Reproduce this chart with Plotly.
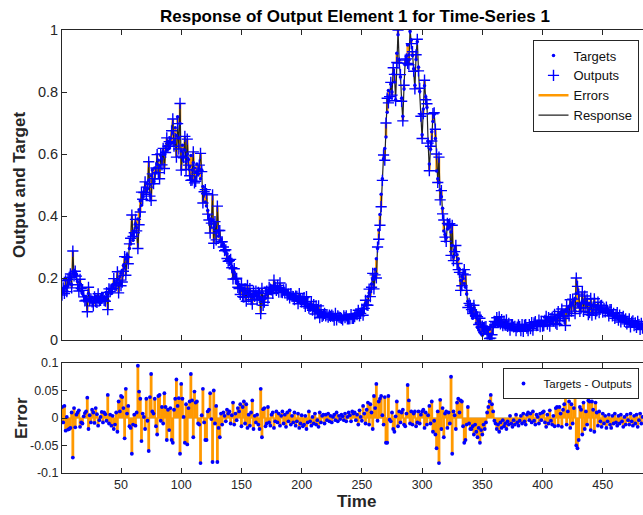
import plotly.graph_objects as go

# ---------------- data ----------------
targets = [
    0.165, 0.160, 0.172, 0.168, 0.158, 0.175, 0.182, 0.195, 0.178, 0.215,
    0.225, 0.205, 0.212, 0.188, 0.172, 0.180, 0.158, 0.150, 0.142, 0.135,
    0.140, 0.128, 0.150, 0.132, 0.125, 0.138, 0.120, 0.130, 0.142, 0.128,
    0.135, 0.122, 0.130, 0.145, 0.128, 0.138, 0.132, 0.148, 0.140, 0.155,
    0.162, 0.150, 0.170, 0.178, 0.165, 0.185, 0.195, 0.182, 0.205, 0.215,
    0.225, 0.240, 0.232, 0.262, 0.275, 0.268, 0.295, 0.310, 0.338, 0.322,
    0.352, 0.375, 0.362, 0.390, 0.420, 0.448, 0.435, 0.462, 0.478, 0.490,
    0.505, 0.488, 0.515, 0.502, 0.530, 0.548, 0.512, 0.555, 0.540, 0.568,
    0.580, 0.562, 0.595, 0.585, 0.608, 0.598, 0.625, 0.612, 0.640, 0.618,
    0.652, 0.635, 0.668, 0.640, 0.685, 0.660, 0.720, 0.652, 0.698, 0.610,
    0.628, 0.590, 0.612, 0.575, 0.600, 0.582, 0.560, 0.595, 0.548, 0.572,
    0.555, 0.540, 0.568, 0.535, 0.552, 0.520, 0.548, 0.495, 0.470, 0.445,
    0.432, 0.418, 0.402, 0.390, 0.375, 0.388, 0.362, 0.372, 0.345, 0.352,
    0.335, 0.318, 0.325, 0.305, 0.310, 0.292, 0.285, 0.278, 0.262, 0.268,
    0.250, 0.238, 0.225, 0.218, 0.205, 0.195, 0.188, 0.178, 0.172, 0.165,
    0.160, 0.168, 0.155, 0.150, 0.158, 0.145, 0.152, 0.140, 0.148, 0.138,
    0.145, 0.150, 0.135, 0.142, 0.130, 0.138, 0.132, 0.128, 0.140, 0.135,
    0.148, 0.155, 0.162, 0.150, 0.168, 0.160, 0.175, 0.165, 0.172, 0.168,
    0.162, 0.170, 0.158, 0.165, 0.152, 0.160, 0.148, 0.155, 0.142, 0.150,
    0.138, 0.145, 0.132, 0.140, 0.128, 0.135, 0.125, 0.132, 0.120, 0.128,
    0.118, 0.125, 0.112, 0.120, 0.108, 0.115, 0.102, 0.110, 0.098, 0.104,
    0.092, 0.098, 0.088, 0.094, 0.082, 0.090, 0.080, 0.086, 0.076, 0.084,
    0.078, 0.082, 0.074, 0.080, 0.072, 0.078, 0.070, 0.082, 0.075, 0.072,
    0.078, 0.070, 0.076, 0.068, 0.074, 0.080, 0.072, 0.070, 0.078, 0.074,
    0.076, 0.082, 0.078, 0.085, 0.080, 0.088, 0.084, 0.092, 0.088, 0.095,
    0.102, 0.110, 0.118, 0.128, 0.140, 0.152, 0.165, 0.180, 0.195, 0.205,
    0.228, 0.262, 0.295, 0.355, 0.405, 0.470, 0.520, 0.585, 0.618, 0.655,
    0.735, 0.805, 0.782, 0.825, 0.800, 0.858, 0.832, 0.775, 0.925, 0.985,
    0.905, 0.848, 0.780, 0.722, 0.810, 0.888, 0.915, 0.952, 0.920, 0.995,
    0.968, 0.918, 0.875, 0.822, 0.905, 0.962, 0.880, 0.802, 0.728, 0.662,
    0.745, 0.820, 0.785, 0.750, 0.640, 0.568, 0.615, 0.672, 0.705, 0.728,
    0.650, 0.545, 0.520, 0.508, 0.485, 0.462, 0.425, 0.352, 0.340, 0.330,
    0.358, 0.382, 0.365, 0.348, 0.305, 0.268, 0.290, 0.285, 0.275, 0.262,
    0.228, 0.192, 0.205, 0.198, 0.182, 0.170, 0.148, 0.125, 0.108, 0.092,
    0.078, 0.070, 0.082, 0.078, 0.055, 0.040, 0.032, 0.025, 0.020, 0.015,
    0.028, 0.022, 0.035, 0.030, 0.040, 0.035, 0.048, 0.042, 0.052, 0.055,
    0.048, 0.052, 0.045, 0.050, 0.044, 0.048, 0.042, 0.046, 0.040, 0.045,
    0.038, 0.042, 0.036, 0.040, 0.034, 0.038, 0.032, 0.036, 0.034, 0.035,
    0.038, 0.034, 0.040, 0.036, 0.042, 0.038, 0.044, 0.040, 0.046, 0.045,
    0.048, 0.044, 0.050, 0.047, 0.052, 0.049, 0.054, 0.051, 0.056, 0.055,
    0.058, 0.055, 0.060, 0.057, 0.062, 0.059, 0.064, 0.061, 0.066, 0.068,
    0.072, 0.070, 0.078, 0.082, 0.086, 0.084, 0.090, 0.094, 0.092, 0.098,
    0.102, 0.108, 0.112, 0.118, 0.122, 0.128, 0.135, 0.150, 0.118, 0.108,
    0.112, 0.118, 0.125, 0.120, 0.122, 0.116, 0.120, 0.114, 0.118, 0.112,
    0.110, 0.114, 0.108, 0.112, 0.104, 0.108, 0.100, 0.104, 0.096, 0.098,
    0.092, 0.095, 0.088, 0.090, 0.084, 0.086, 0.080, 0.082, 0.076, 0.078,
    0.072, 0.074, 0.068, 0.070, 0.064, 0.066, 0.060, 0.062, 0.056, 0.058,
    0.054, 0.056, 0.050, 0.052, 0.048, 0.050, 0.045, 0.047, 0.044, 0.046,
    0.042, 0.044, 0.040,
]

# errors = targets - outputs
errors = [
    0.020, -0.008, 0.022, -0.023, 0.002, -0.021, -0.020, -0.018, 0.010, -0.072,
    0.018, -0.017, 0.006, 0.010, 0.014, -0.016, -0.008, -0.010, 0.003, 0.009,
    0.012, 0.037, -0.020, 0.005, -0.008, 0.015, 0.010, -0.009, 0.018, 0.007,
    -0.014, -0.004, 0.002, 0.011, -0.008, 0.010, 0.007, -0.005, 0.042, -0.010,
    0.006, -0.014, 0.004, -0.020, -0.012, 0.010, -0.025, 0.030, 0.012, 0.040,
    0.038, 0.018, -0.037, 0.053, 0.008, 0.022, -0.015, -0.018, -0.065, -0.012,
    0.006, -0.014, 0.010, 0.095, 0.048, 0.035, -0.042, 0.008, 0.002, -0.020,
    0.035, -0.005, -0.060, 0.038, 0.080, 0.012, 0.008, 0.035, -0.015, -0.030,
    0.040, 0.042, -0.005, 0.020, -0.010, 0.045, 0.020, -0.040, 0.015, -0.022,
    0.018, -0.040, -0.045, 0.015, 0.035, 0.070, 0.022, 0.036, -0.065, 0.062,
    0.035, 0.002, -0.045, 0.025, -0.048, 0.018, 0.030, 0.080, 0.032, -0.035,
    0.048, 0.028, 0.030, -0.010, -0.012, -0.082, 0.005, 0.053, -0.008, -0.040,
    -0.040, 0.012, 0.015, 0.045, -0.002, -0.080, 0.050, -0.010, 0.022, -0.080,
    -0.018, -0.035, 0.008, -0.012, 0.010, 0.004, -0.006, 0.015, 0.008, 0.012,
    -0.010, 0.005, 0.028, -0.012, 0.008, -0.004, 0.018, 0.012, 0.025, -0.015,
    0.020, 0.030, -0.010, 0.025, -0.018, 0.006, -0.014, 0.010, 0.032, -0.020,
    0.004, -0.008, 0.006, -0.012, -0.020, 0.053, -0.035, 0.016, 0.018, -0.015,
    -0.010, 0.020, -0.008, -0.014, 0.006, 0.010, -0.018, -0.006, 0.012, -0.008,
    0.008, -0.014, 0.004, 0.012, -0.010, 0.006, -0.016, 0.010, -0.006, 0.014,
    -0.012, 0.004, -0.008, 0.010, -0.014, -0.006, 0.008, -0.018, -0.010, 0.005,
    -0.015, -0.012, 0.004, -0.020, -0.008, 0.012, -0.006, -0.014, 0.002, -0.010,
    0.008, -0.012, -0.004, -0.016, 0.010, -0.008, 0.004, 0.006, -0.010, 0.006,
    -0.004, 0.008, -0.006, 0.004, -0.008, 0.002, 0.006, -0.004, 0.010, -0.006,
    0.004, -0.002, 0.006, 0.003, -0.004, 0.008, -0.006, 0.002, 0.010, 0.005,
    -0.006, 0.012, 0.008, 0.010, -0.004, 0.006, -0.012, 0.014, 0.002, -0.005,
    0.022, 0.008, -0.010, 0.015, 0.028, -0.012, 0.025, 0.010, -0.020, 0.040,
    0.018, 0.062, -0.005, 0.030, 0.035, 0.040, 0.005, -0.012, 0.038, -0.045,
    -0.045, 0.040, -0.003, -0.006, 0.010, -0.020, -0.025, 0.003, 0.030, -0.015,
    0.012, -0.008, 0.010, 0.015, -0.012, -0.015, 0.008, 0.060, 0.032, -0.010,
    0.012, -0.012, 0.008, 0.012, -0.015, -0.008, 0.012, -0.010, 0.006, 0.012,
    0.015, -0.018, 0.010, -0.012, 0.005, 0.022, -0.010, 0.030, -0.025, -0.005,
    -0.030, -0.055, 0.012, -0.082, 0.033, -0.020, 0.018, -0.035, 0.008, 0.012,
    -0.018, 0.010, -0.010, 0.075, -0.065, 0.012, 0.005, -0.020, 0.028, 0.035,
    0.010, 0.032, 0.030, -0.015, -0.045, -0.040, -0.012, 0.020, -0.010, -0.020,
    -0.020, -0.015, -0.030, -0.012, -0.025, -0.035, -0.018, -0.045, -0.022, -0.030,
    -0.012, -0.020, -0.008, 0.010, 0.020, 0.030, 0.042, 0.025, 0.012, -0.005,
    -0.010, -0.020, -0.012, -0.025, -0.008, -0.018, -0.004, -0.015, -0.010, -0.020,
    -0.006, -0.012, 0.004, -0.010, -0.016, -0.004, -0.012, 0.006, -0.008, -0.014,
    -0.005, 0.004, -0.010, 0.008, -0.006, -0.012, 0.006, 0.010, -0.004, 0.008,
    -0.008, 0.012, -0.005, -0.012, 0.006, 0.002, -0.010, 0.008, -0.004, 0.010,
    0.012, -0.008, -0.016, 0.006, -0.010, 0.014, -0.005, -0.012, 0.004, -0.015,
    0.018, 0.020, -0.014, 0.020, 0.008, -0.016, 0.015, 0.025, 0.045, -0.012,
    0.012, 0.030, -0.018, 0.025, -0.010, 0.018, 0.050, -0.050, -0.055, -0.040,
    0.020, 0.015, -0.030, 0.028, -0.020, 0.012, -0.012, 0.032, 0.030, -0.022,
    0.030, 0.015, -0.025, 0.028, 0.010, -0.014, 0.012, -0.006, -0.016, 0.008,
    -0.010, 0.004, -0.018, -0.006, 0.006, -0.012, -0.018, 0.004, -0.010, 0.008,
    -0.008, -0.014, 0.004, -0.010, 0.006, -0.006, -0.016, 0.002, -0.012, 0.006,
    -0.004, -0.012, 0.008, -0.006, -0.014, 0.004, -0.010, 0.006, -0.016, -0.004,
    0.008, -0.010, 0.002,
]

x_tick_values = [50, 100, 150, 200, 250, 300, 350, 400, 450]
x_tick_labels = ["50", "100", "150", "200", "250", "300", "350", "400", "450"]
y_top_tick_values = [0, 0.2, 0.4, 0.6, 0.8, 1]
y_top_tick_labels = ["0", "0.2", "0.4", "0.6", "0.8", "1"]
y_err_tick_values = [-0.1, -0.05, 0, 0.05, 0.1]
y_err_tick_labels = ["-0.1", "-0.05", "0", "0.05", "0.1"]

n = min(len(targets), len(errors))
targets = targets[:n]
errors = errors[:n]
time = list(range(1, n + 1))
outputs = [tg - e for tg, e in zip(targets, errors)]

# ---------------- styling ----------------
BLUE = "#0000FF"
ORANGE = "#FF9900"
AX = "#262626"
FONT = "Liberation Sans, Arial, Helvetica, sans-serif"

# segments
seg_x, seg_y, stem_x, stem_y = [], [], [], []
for t, tg, o, e in zip(time, targets, outputs, errors):
    seg_x += [t, t, None]
    seg_y += [tg, o, None]
    stem_x += [t, t, None]
    stem_y += [0, e, None]

fig = go.Figure()

fig.add_trace(go.Scatter(x=seg_x, y=seg_y, mode="lines", name="Errors",
                         line=dict(color=ORANGE, width=2.5), legendrank=3,
                         xaxis="x", yaxis="y", legend="legend"))
fig.add_trace(go.Scatter(x=time, y=outputs, mode="lines", name="Response",
                         line=dict(color="#222222", width=1.2), legendrank=4,
                         xaxis="x", yaxis="y", legend="legend"))
fig.add_trace(go.Scatter(x=time, y=targets, mode="markers", name="Targets",
                         marker=dict(color=BLUE, size=3.5), legendrank=1,
                         xaxis="x", yaxis="y", legend="legend"))
fig.add_trace(go.Scatter(x=time, y=outputs, mode="markers", name="Outputs",
                         marker=dict(symbol="cross-thin", size=8, color=BLUE,
                                     line=dict(color=BLUE, width=1.4)),
                         legendrank=2, xaxis="x", yaxis="y", legend="legend"))

# error panel
fig.add_trace(go.Scatter(x=[time[0], time[-1]], y=[0, 0], mode="lines",
                         line=dict(color="#C07800", width=1), showlegend=False,
                         xaxis="x2", yaxis="y2", hoverinfo="skip"))
fig.add_trace(go.Scatter(x=stem_x, y=stem_y, mode="lines",
                         line=dict(color=ORANGE, width=2.8), showlegend=False,
                         xaxis="x2", yaxis="y2"))
fig.add_trace(go.Scatter(x=time, y=errors, mode="markers", name="Targets - Outputs",
                         marker=dict(color=BLUE, size=3.8),
                         xaxis="x2", yaxis="y2", legend="legend2"))

W, H = 643, 515
L, R, T, B = 62, 0, 30, 42
ph = H - T - B  # 443
pw = W - L - R  # 581


def py(pix):
    return (H - B - pix) / ph


def px(pix):
    return (pix - L) / pw


axis_common = dict(showgrid=False, zeroline=False, showline=True, linecolor=AX,
                   linewidth=1, ticks="inside", ticklen=5, tickcolor=AX,
                   tickwidth=1, automargin=False)

fig.update_layout(
    width=W, height=H,
    margin=dict(l=L, r=R, t=T, b=B, pad=0),
    paper_bgcolor="white", plot_bgcolor="white",
    font=dict(family=FONT, color=AX),
    xaxis=dict(domain=[0, 1], range=[1, 483.4], anchor="y",
               tickvals=x_tick_values, ticktext=x_tick_labels,
               showticklabels=False, mirror="ticks", **axis_common),
    yaxis=dict(domain=[py(340), 1], range=[0, 1], anchor="x",
               tickvals=y_top_tick_values, ticktext=y_top_tick_labels,
               tickfont=dict(size=14.5, color=AX, family=FONT),
               mirror=False, **axis_common),
    xaxis2=dict(domain=[0, 1], range=[1, 483.4], anchor="y2",
                tickvals=x_tick_values, ticktext=x_tick_labels,
                tickfont=dict(size=12.5, color=AX, family=FONT),
                mirror="ticks", **axis_common),
    yaxis2=dict(domain=[0, py(363)], range=[-0.1, 0.1], anchor="x2",
                tickvals=y_err_tick_values, ticktext=y_err_tick_labels,
                tickfont=dict(size=12.5, color=AX, family=FONT),
                mirror=False, **axis_common),
    legend=dict(x=px(638.5), y=py(39.5), xanchor="right", yanchor="top",
                bgcolor="white", bordercolor=AX, borderwidth=1,
                font=dict(size=13, color="#111111", family=FONT),
                tracegroupgap=0, entrywidth=70),
    legend2=dict(x=px(638.5), y=py(368), xanchor="right", yanchor="top",
                 bgcolor="white", bordercolor=AX, borderwidth=1,
                 font=dict(size=11.5, color="#111111", family=FONT),
                 entrywidth=104),
    showlegend=True,
    annotations=[
        dict(text="<b>Response of Output Element 1 for Time-Series 1</b>",
             x=px(355), y=py(16.5), xref="paper", yref="paper",
             xanchor="center", yanchor="middle", showarrow=False,
             font=dict(size=17, color="#000000", family=FONT)),
        dict(text="<b>Output and Target</b>", x=px(19), y=py(185),
             xref="paper", yref="paper", xanchor="center", yanchor="middle",
             textangle=-90, showarrow=False,
             font=dict(size=17, color=AX, family=FONT)),
        dict(text="<b>Error</b>", x=px(21), y=py(418),
             xref="paper", yref="paper", xanchor="center", yanchor="middle",
             textangle=-90, showarrow=False,
             font=dict(size=17, color=AX, family=FONT)),
        dict(text="<b>Time</b>", x=px(356), y=py(502),
             xref="paper", yref="paper", xanchor="center", yanchor="middle",
             showarrow=False, font=dict(size=17, color=AX, family=FONT)),
    ],
)

fig.write_html("out.html")
